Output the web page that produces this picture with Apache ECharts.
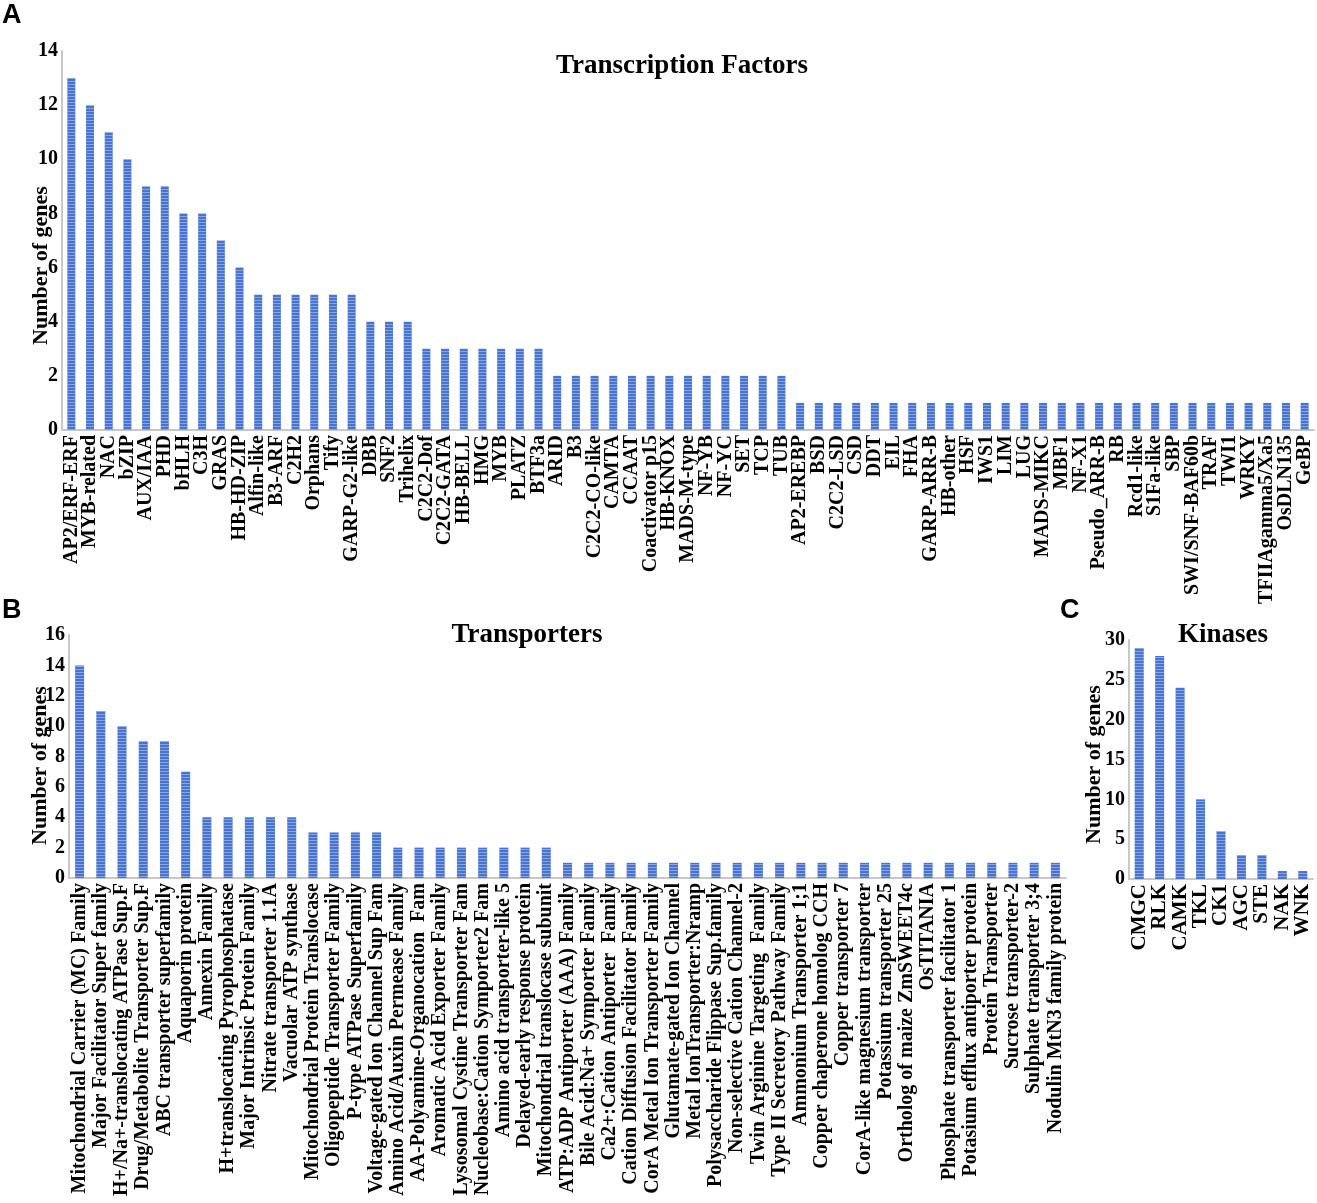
<!DOCTYPE html>
<html>
<head>
<meta charset="utf-8">
<script src="https://cdn.jsdelivr.net/npm/echarts@6/dist/echarts.min.js"></script>
<style>
html, body { margin: 0; padding: 0; background: #fff; }
#chart { width: 1317px; height: 1203px; }
</style>
</head>
<body>
<div id="chart"></div>
<script>
// A - transcription factor families
var tfNames = ['AP2/ERF-ERF', 'MYB-related', 'NAC', 'bZIP', 'AUX/IAA', 'PHD', 'bHLH', 'C3H', 'GRAS',
	'HB-HD-ZIP', 'Alfin-like', 'B3-ARF', 'C2H2', 'Orphans', 'Tify', 'GARP-G2-like', 'DBB', 'SNF2',
	'Trihelix', 'C2C2-Dof', 'C2C2-GATA', 'HB-BELL', 'HMG', 'MYB', 'PLATZ', 'BTF3a', 'ARID', 'B3',
	'C2C2-CO-like', 'CAMTA', 'CCAAT', 'Coactivator p15', 'HB-KNOX', 'MADS-M-type', 'NF-YB', 'NF-YC',
	'SET', 'TCP', 'TUB', 'AP2-EREBP', 'BSD', 'C2C2-LSD', 'CSD', 'DDT', 'EIL', 'FHA', 'GARP-ARR-B',
	'HB-other', 'HSF', 'IWS1', 'LIM', 'LUG', 'MADS-MIKC', 'MBF1', 'NF-X1', 'Pseudo_ARR-B', 'RB',
	'Rcd1-like', 'S1Fa-like', 'SBP', 'SWI/SNF-BAF60b', 'TRAF', 'TWI1', 'WRKY', 'TFIIAgamma5/Xa5',
	'OsDLN135', 'GeBP'];
var tfCounts = [13, 12, 11, 10, 9, 9, 8, 8, 7, 6, 5, 5, 5, 5, 5, 5, 4, 4, 4, 3, 3, 3, 3, 3, 3, 3,
	2, 2, 2, 2, 2, 2, 2, 2, 2, 2, 2, 2, 2,
	1, 1, 1, 1, 1, 1, 1, 1, 1, 1, 1, 1, 1, 1, 1, 1, 1, 1, 1, 1, 1, 1, 1, 1, 1, 1, 1, 1, 1];

// B - transporters
var trNames = ['Mitochondrial Carrier (MC) Family', 'Major Facilitator Super family',
	'H+/Na+-translocating ATPase Sup.F', 'Drug/Metabolite Transporter Sup.F',
	'ABC transporter superfamily', 'Aquaporin protein', 'Annexin Family',
	'H+translocating Pyrophosphatase', 'Major Intrinsic Protein Family', 'Nitrate transporter 1.1A',
	'Vacuolar ATP synthase', 'Mitochondrial Protein Translocase', 'Oligopeptide Transporter Family',
	'P-type ATPase Superfamily', 'Voltage-gated Ion Channel Sup Fam', 'Amino Acid/Auxin Permease Family',
	'AA-Polyamine-Organocation  Fam', 'Aromatic Acid Exporter Family', 'Lysosomal Cystine Transporter Fam',
	'Nucleobase:Cation Symporter2 Fam', 'Amino acid transporter-like 5', 'Delayed-early response protein',
	'Mitochondrial translocase subunit', 'ATP:ADP Antiporter (AAA) Family', 'Bile Acid:Na+ Symporter Family',
	'Ca2+:Cation Antiporter  Family', 'Cation Diffusion Facilitator Family', 'CorA Metal Ion Transporter Family',
	'Glutamate-gated Ion Channel', 'Metal IonTransporter:Nramp', 'Polysaccharide Flippase Sup.family',
	'Non-selective Cation Channel-2', 'Twin Arginine Targeting  Family', 'Type II Secretory Pathway Family',
	'Ammonium Transporter 1;1', 'Copper chaperone homolog CCH', 'Copper transporter 7',
	'CorA-like magnesium transporter', 'Potassium transporter 25', 'Ortholog of maize ZmSWEET4c',
	'OsTITANIA', 'Phosphate transporter facilitator 1', 'Potasium efflux antiporter protein',
	'Protein Transporter', 'Sucrose transporter-2', 'Sulphate transporter 3;4', 'Nodulin MtN3 family protein'];
var trCounts = [14, 11, 10, 9, 9, 7, 4, 4, 4, 4, 4, 3, 3, 3, 3, 2, 2, 2, 2, 2, 2, 2, 2,
	1, 1, 1, 1, 1, 1, 1, 1, 1, 1, 1, 1, 1, 1, 1, 1, 1, 1, 1, 1, 1, 1, 1, 1];

// C - kinases
var kiNames = ['CMGC', 'RLK', 'CAMK', 'TKL', 'CK1', 'AGC', 'STE', 'NAK', 'WNK'];
var kiCounts = [29, 28, 24, 10, 6, 3, 3, 1, 1];

var serif = '"Liberation Serif", "Times New Roman", serif';
var barColor = '#4874cf';
var stripes = {
	symbol : 'rect',
	symbolSize : 1,
	dashArrayX : [ 1, 0 ],
	dashArrayY : [ 1, 2 ],
	color : 'rgba(255,255,255,0.35)'
};

function xAxisFor(idx, names, size) {
	return {
		type : 'category',
		gridIndex : idx,
		data : names,
		axisTick : { show : false },
		axisLine : { lineStyle : { color : '#c8c8c8', width : 2 } },
		axisLabel : {
			interval : 0,
			rotate : 90,
			margin : 5,
			color : '#000',
			fontFamily : serif,
			fontWeight : 'bold',
			fontSize : size
		}
	};
}

// drop = how far the axis name sits below the middle of the axis
function yAxisFor(idx, max, step, gap, drop) {
	return {
		type : 'value',
		gridIndex : idx,
		min : 0,
		max : max,
		interval : step,
		name : 'Number of genes',
		nameLocation : 'middle',
		nameGap : gap,
		nameMoveOverlap : false,
		nameTextStyle : {
			color : '#000', fontFamily : serif, fontWeight : 'bold', fontSize : 22,
			padding : [ 0, drop * 2, 0, 0 ]
		},
		axisTick : { show : false },
		splitLine : { show : false },
		axisLine : { show : true, lineStyle : { color : '#c8c8c8', width : 2 } },
		axisLabel : { color : '#000', fontFamily : serif, fontWeight : 'bold', fontSize : 20, margin : 4 }
	};
}

function barSeries(idx, values, width) {
	return {
		type : 'bar',
		xAxisIndex : idx,
		yAxisIndex : idx,
		barWidth : width,
		data : values,
		itemStyle : { color : barColor, decal : stripes },
		silent : true
	};
}

var titleFont = { fontFamily : serif, fontWeight : 'bold', fontSize : 27, color : '#000' };

var option = {
	animation : false,
	backgroundColor : '#fff',
	title : [
		{ text : 'Transcription Factors', left : 677, top : 48, textAlign : 'center', textStyle : titleFont },
		{ text : 'Transporters', left : 522, top : 617, textAlign : 'center', textStyle : titleFont },
		{ text : 'Kinases', left : 1218, top : 617, textAlign : 'center', textStyle : titleFont }
	],
	graphic : [
		{ type : 'text', left : 2, top : 2, style : { text : 'A', font : 'bold 27px "Liberation Sans", Arial, sans-serif', fill : '#000' } },
		{ type : 'text', left : 2, top : 597, style : { text : 'B', font : 'bold 27px "Liberation Sans", Arial, sans-serif', fill : '#000' } },
		{ type : 'text', left : 1060, top : 597, style : { text : 'C', font : 'bold 27px "Liberation Sans", Arial, sans-serif', fill : '#000' } }
	],
	grid : [
		{ left : 62, top : 51, width : 1252, height : 379 },
		{ left : 69, top : 635, width : 997, height : 243 },
		{ left : 1129, top : 640, width : 184, height : 239 }
	],
	xAxis : [ xAxisFor(0, tfNames, 20), xAxisFor(1, trNames, 20), xAxisFor(2, kiNames, 21) ],
	yAxis : [ yAxisFor(0, 14, 2, 10, 25), yAxisFor(1, 16, 2, 18, 9), yAxisFor(2, 30, 5, 24, 5) ],
	series : [ barSeries(0, tfCounts, 8), barSeries(1, trCounts, 9), barSeries(2, kiCounts, 9) ]
};

var chart = echarts.init(document.getElementById('chart'));
chart.setOption(option);
</script>
</body>
</html>
